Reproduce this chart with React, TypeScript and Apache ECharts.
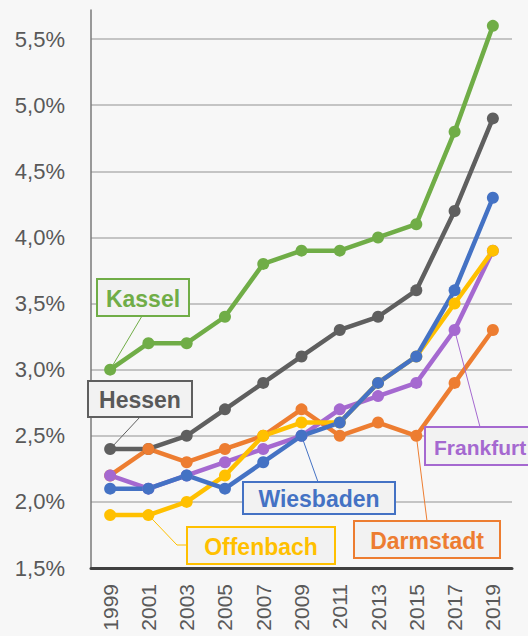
import React, { useEffect, useRef } from "react";
import * as echarts from "echarts";

const years = ["1999", "2001", "2003", "2005", "2007", "2009", "2011", "2013", "2015", "2017", "2019"];
const kassel = [3.0, 3.2, 3.2, 3.4, 3.8, 3.9, 3.9, 4.0, 4.1, 4.8, 5.6];
const hessen = [2.4, 2.4, 2.5, 2.7, 2.9, 3.1, 3.3, 3.4, 3.6, 4.2, 4.9];
const darmstadt = [2.2, 2.4, 2.3, 2.4, 2.5, 2.7, 2.5, 2.6, 2.5, 2.9, 3.3];
const frankfurt = [2.2, 2.1, 2.2, 2.3, 2.4, 2.5, 2.7, 2.8, 2.9, 3.3, 3.9];
const offenbach = [1.9, 1.9, 2.0, 2.2, 2.5, 2.6, 2.6, 2.9, 3.1, 3.5, 3.9];
const wiesbaden = [2.1, 2.1, 2.2, 2.1, 2.3, 2.5, 2.6, 2.9, 3.1, 3.6, 4.3];

const FONT = "'Liberation Sans', Arial, sans-serif";

const seriesDefs = [
  { name: "Kassel", data: kassel, color: "#70AD47", textColor: "#70AD47" },
  { name: "Hessen", data: hessen, color: "#5f5f5f", textColor: "#595959" },
  { name: "Darmstadt", data: darmstadt, color: "#ED7D31", textColor: "#ED7D31" },
  { name: "Frankfurt", data: frankfurt, color: "#A569D0", textColor: "#A569D0" },
  { name: "Offenbach", data: offenbach, color: "#FFC000", textColor: "#FFC000" },
  { name: "Wiesbaden", data: wiesbaden, color: "#4472C4", textColor: "#4472C4" },
];

// annotation boxes: [x, y, w, h], anchor point on the box, data point index, optional elbow
const boxes: Record<string, { rect: number[]; anchor: number[]; idx: number; elbow?: number[]; textX?: number; size?: number }> = {
  Kassel: { rect: [97, 279, 92, 37], anchor: [142, 316], idx: 0 },
  Hessen: { rect: [88, 381, 104, 36], anchor: [140, 417], idx: 0 },
  Wiesbaden: { rect: [243, 482, 152, 32], anchor: [318, 482], idx: 5 },
  Offenbach: { rect: [187, 527, 148, 37], anchor: [187, 545], idx: 1, elbow: [177, 545] },
  Darmstadt: { rect: [354, 521, 146, 37], anchor: [427, 521], idx: 8 },
  Frankfurt: { rect: [425, 427, 110, 38], anchor: [480, 427], idx: 9, textX: 434, size: 21 },
};

export default function App() {
  const ref = useRef<HTMLDivElement>(null);
  useEffect(() => {
    document.body.style.margin = "0";
    const chart = echarts.init(ref.current!, null, { renderer: "svg" });
    const option: any = {
      animation: false,
      backgroundColor: "#f7f7f7",
      grid: { left: 91, right: 16, top: 10, bottom: 68 },
      xAxis: {
        type: "category",
        data: years,
        boundaryGap: true,
        axisLine: { lineStyle: { color: "#404040", width: 3 } },
        axisTick: { show: false },
        axisLabel: { rotate: 90, fontSize: 21, color: "#595959", fontFamily: FONT, margin: 16 },
        splitLine: { show: false },
      },
      yAxis: {
        type: "value",
        min: 1.5,
        max: 5.72,
        interval: 0.5,
        axisLine: { show: true, lineStyle: { color: "#7a7a7a", width: 1.5 } },
        axisTick: { show: false },
        axisLabel: {
          fontSize: 22,
          color: "#595959",
          fontFamily: FONT,
          margin: 26,
          showMaxLabel: false,
          formatter: (v: number) => (Math.abs(v * 2 - Math.round(v * 2)) < 1e-6 ? v.toFixed(1).replace(".", ",") + "%" : ""),
        },
        splitLine: {
          show: true,
          showMaxLine: false,
          showMinLine: false,
          lineStyle: { color: "#c4c4c4", width: 2 },
        },
      },
      series: seriesDefs.map((s) => ({
        name: s.name,
        type: "line",
        data: s.data,
        symbol: "circle",
        symbolSize: 12,
        lineStyle: { color: s.color, width: 4.5 },
        itemStyle: { color: s.color },
        emphasis: { disabled: true },
      })),
    };
    chart.setOption(option);

    const graphics: any[] = [];
    seriesDefs.forEach((s, si) => {
      const b = boxes[s.name];
      const p = chart.convertToPixel({ seriesIndex: si }, [b.idx, s.data[b.idx]]) as number[];
      const pts = b.elbow ? [p, b.elbow, b.anchor] : [p, b.anchor];
      graphics.push({
        type: "polyline",
        silent: true,
        z: 50,
        shape: { points: pts },
        style: { stroke: s.color, lineWidth: 1, fill: null },
      });
      graphics.push({
        type: "rect",
        silent: true,
        z: 60,
        shape: { x: b.rect[0], y: b.rect[1], width: b.rect[2], height: b.rect[3] },
        style: { fill: "#f2f2f2", stroke: s.color, lineWidth: 2 },
      });
      const left = b.textX !== undefined;
      graphics.push({
        type: "text",
        silent: true,
        z: 61,
        x: left ? b.textX : b.rect[0] + b.rect[2] / 2,
        y: b.rect[1] + b.rect[3] / 2 + 1,
        style: {
          text: s.name,
          fill: s.textColor,
          font: `bold ${b.size || 23}px ${FONT}`,
          align: left ? "left" : "center",
          verticalAlign: "middle",
        },
      });
    });
    chart.setOption({ graphic: graphics });
    return () => chart.dispose();
  }, []);
  return <div ref={ref} style={{ position: "absolute", left: 0, top: 0, width: 528, height: 636 }} />;
}
